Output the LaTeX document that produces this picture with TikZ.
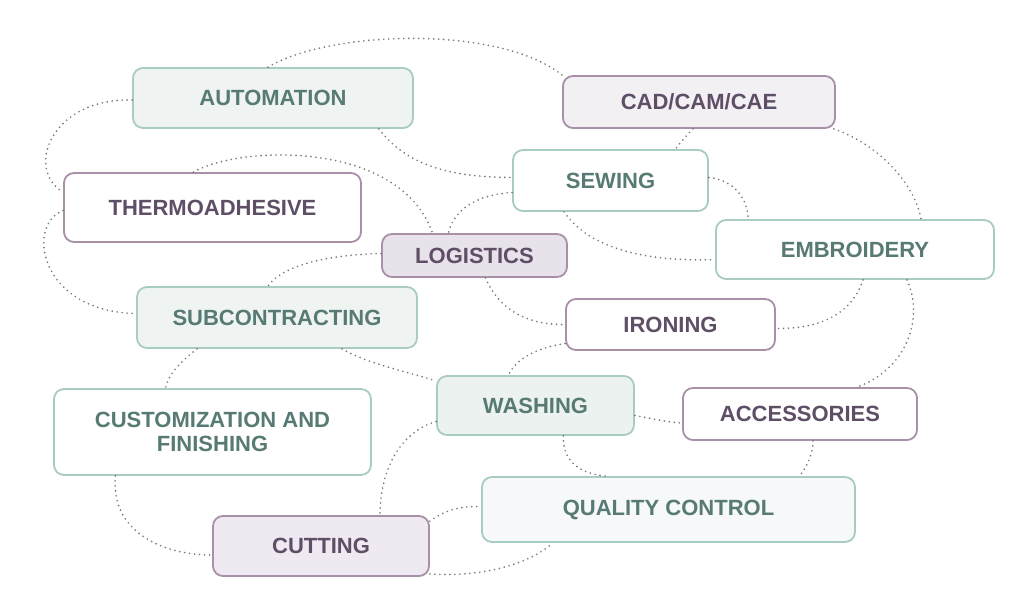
\documentclass[tikz,border=0pt]{standalone}
\usepackage{fontspec}
\setmainfont{Liberation Sans}
\usepackage{tikz}
\usepackage{xcolor}

\definecolor{tealline}{HTML}{A8CBC3}
\definecolor{tealtext}{HTML}{587A74}
\definecolor{purpline}{HTML}{A890A9}
\definecolor{purptext}{HTML}{5E4E66}
\definecolor{dotgray}{HTML}{7C7C7C}
\definecolor{tealfill}{HTML}{EFF4F3}
\definecolor{tealfillb}{HTML}{EBF2F0}
\definecolor{tealfillc}{HTML}{F6F8F9}
\definecolor{purpfill}{HTML}{F3F0F4}
\definecolor{purpfillb}{HTML}{E8E2EA}
\definecolor{purpfillc}{HTML}{EFE9F1}

\tikzset{
  box/.style={draw, rounded corners=10pt, line width=1.8pt, inner sep=0pt, align=center,
    font=\bfseries\fontsize{22}{24}\selectfont},
  tealnode/.style={box, draw=tealline, text=tealtext, fill=white},
  purpnode/.style={box, draw=purpline, text=purptext, fill=white},
  link/.style={draw=dotgray, line width=1.9pt, line cap=round, dash pattern=on 0pt off 5pt}
}

\begin{document}
\begin{tikzpicture}[x=1pt,y=-1pt]
\useasboundingbox (0,0) rectangle (1024,610);

% boxes
\node [tealnode, fill=tealfill, minimum width=280pt, minimum height=60pt] (auto) at (273,98) {AUTOMATION};
\node [purpnode, fill=purpfill, minimum width=272pt, minimum height=52pt] (cad) at (699,102) {CAD/CAM/CAE};
\node [tealnode, minimum width=195pt, minimum height=61pt] (sewing) at (610.5,180.5) {SEWING};
\node [purpnode, minimum width=297pt, minimum height=69pt] (thermo) at (212.5,207.5) {THERMOADHESIVE};
\node [purpnode, fill=purpfillb, minimum width=185pt, minimum height=43pt] (logis) at (474.5,255.5) {LOGISTICS};
\node [tealnode, minimum width=278pt, minimum height=59pt] (embro) at (855,249.5) {EMBROIDERY};
\node [tealnode, fill=tealfill, minimum width=280pt, minimum height=61pt] (subco) at (277,317.5) {SUBCONTRACTING};
\node [purpnode, minimum width=209pt, minimum height=51pt] (ironing) at (670.5,324.5) {IRONING};
\node [tealnode, minimum width=317pt, minimum height=86pt] (custom) at (212.5,432) {CUSTOMIZATION AND\\FINISHING};
\node [tealnode, fill=tealfillb, minimum width=197pt, minimum height=59pt] (washing) at (535.5,405.5) {WASHING};
\node [purpnode, minimum width=234pt, minimum height=52pt] (access) at (800,414) {ACCESSORIES};
\node [tealnode, fill=tealfillc, minimum width=373pt, minimum height=65pt] (qc) at (668.5,509.5) {QUALITY CONTROL};
\node [purpnode, fill=purpfillc, minimum width=216pt, minimum height=60pt] (cutting) at (321,546) {CUTTING};

% dotted links
\draw [link] ([xshift=-5pt]auto.north) .. controls (330,30) and (500,25) .. (cad.north west);
\draw [link] ([yshift=-2pt]auto.west) .. controls (50,98) and (25,170) .. ([yshift=-20pt]thermo.north west);
\draw [link] ([xshift=-35pt]auto.south east) .. controls (410,170) and (460,177) .. ([yshift=3pt]sewing.west);
\draw [link] ([xshift=-19pt]thermo.north) .. controls (240,145) and (400,140) .. ([xshift=-42pt]logis.north);
\draw [link] ([yshift=-12pt]sewing.west) .. controls (470,195) and (452,215) .. ([xshift=-26pt]logis.north);
\draw [link] ([xshift=-6pt]cad.south) .. controls (686,136) and (680,143) .. ([xshift=65pt]sewing.north);
\draw [link] ([xshift=-2pt]cad.south east) .. controls (880,145) and (915,185) .. ([xshift=66pt]embro.north);
\draw [link] ([yshift=3pt]sewing.east) .. controls (735,180) and (748,200) .. ([xshift=33pt]embro.north west);
\draw [link] ([xshift=52pt]sewing.south west) .. controls (590,250) and (650,262) .. ([yshift=-10pt]embro.west);
\draw [link] ([yshift=-3pt]thermo.west) .. controls (25,225) and (40,312) .. ([yshift=4pt]subco.west);
\draw [link] ([yshift=2pt]logis.west) .. controls (320,255) and (280,268) .. ([xshift=-9pt]subco.north);
\draw [link] ([xshift=11pt]logis.south) .. controls (500,312) and (530,325) .. (ironing.west);
\draw [link] ([xshift=8pt]embro.south) .. controls (850,320) and (810,329) .. ([yshift=-4pt]ironing.east);
\draw [link] ([xshift=52pt]embro.south) .. controls (925,320) and (905,370) .. ([xshift=57pt]access.north);
\draw [link] ([xshift=-80pt]subco.south) .. controls (180,362) and (168,375) .. ([xshift=-47pt]custom.north);
\draw [link] ([xshift=65pt]subco.south) .. controls (370,365) and (410,372) .. ([yshift=-6pt]washing.north west);
\draw [link] ([yshift=-19pt]ironing.west) .. controls (535,348) and (515,360) .. ([xshift=-27pt]washing.north);
\draw [link] ([yshift=-10pt]washing.east) .. controls (650,418) and (665,422) .. ([yshift=-9pt]access.west);
\draw [link] ([xshift=28pt]washing.south) .. controls (562,465) and (585,474) .. ([xshift=-63pt]qc.north);
\draw [link] ([xshift=13pt]access.south) .. controls (813,455) and (806,468) .. ([xshift=131pt]qc.north);
\draw [link] ([yshift=-16pt]washing.west) .. controls (400,432) and (380,470) .. ([xshift=59pt]cutting.north);
\draw [link] ([xshift=-97pt]custom.south) .. controls (110,530) and (160,555) .. ([yshift=-9pt]cutting.west);
\draw [link] ([yshift=-6pt]cutting.north east) .. controls (445,510) and (460,506) .. ([yshift=3pt]qc.west);
\draw [link] ([yshift=3pt]cutting.south east) .. controls (490,578) and (535,560) .. ([xshift=-116pt]qc.south);
\end{tikzpicture}
\end{document}
